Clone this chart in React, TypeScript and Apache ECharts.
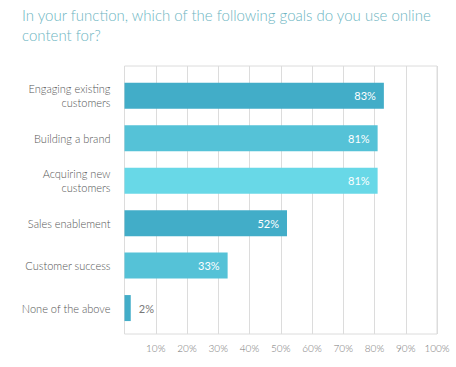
import React, { useEffect, useRef } from "react";
import * as echarts from "echarts";

const categories = [
  "Engaging existing\ncustomers",
  "Building a brand",
  "Acquiring new\ncustomers",
  "Sales enablement",
  "Customer success",
  "None of the above",
];
const values = [83, 81, 81, 52, 33, 2];
const colors = ["#42adc8", "#55c2d7", "#68d8e7", "#42adc8", "#55c2d7", "#42adc8"];
const titleText = "In your function, which of the following goals do you use online\ncontent for?";

export default function App() {
  const ref = useRef<HTMLDivElement>(null);
  useEffect(() => {
    if (!ref.current) return;
    const chart = echarts.init(ref.current, null, { renderer: "svg" });
    const font = "Lato, 'Open Sans', sans-serif";
    chart.setOption({
      animation: false,
      backgroundColor: "#ffffff",
      title: {
        text: titleText,
        left: 22,
        top: 0,
        padding: [5, 0, 0, 0],
        textStyle: {
          color: "#6cb5c2",
          fontSize: 15,
          fontWeight: 300,
          fontFamily: font,
          lineHeight: 20,
        },
      },
      grid: [
        { left: 124.5, right: 19, top: 66, bottom: 33, show: true, borderColor: "#dcdcdc", borderWidth: 1 },
        { left: 124.5, right: 19, top: 74.5, bottom: 37.7 },
      ],
      xAxis: [
        {
          type: "value",
          gridIndex: 0,
          min: 0,
          max: 100,
          interval: 10,
          axisLine: { show: false },
          axisTick: { show: false },
          splitLine: { show: true, lineStyle: { color: "#dcdcdc", width: 1 } },
          axisLabel: {
            showMinLabel: false,
            formatter: "{value}%",
            color: "#777",
            fontSize: 10,
            fontWeight: 300,
            fontFamily: font,
            margin: 9,
          },
        },
        {
          type: "value",
          gridIndex: 1,
          min: 0,
          max: 100,
          show: false,
        },
      ],
      yAxis: [
        { type: "value", gridIndex: 0, show: false },
        {
          type: "category",
          gridIndex: 1,
          data: categories,
          inverse: true,
          axisLine: { show: false },
          axisTick: { show: false },
          splitLine: { show: false },
          axisLabel: {
            color: "#555",
            fontSize: 11,
            fontWeight: 300,
            fontFamily: font,
            margin: 14,
            lineHeight: 14,
            align: "right",
          },
        },
      ],
      series: [
        {
          type: "bar",
          xAxisIndex: 1,
          yAxisIndex: 1,
          barWidth: 26,
          data: values.map((v, i) => ({
            value: v,
            itemStyle: { color: colors[i] },
            label:
              v < 10
                ? { position: "right", color: "#777", distance: 8 }
                : { position: "insideRight", color: "#ffffff", distance: 8 },
          })),
          label: {
            show: true,
            formatter: "{c}%",
            fontSize: 11,
            fontFamily: font,
          },
        },
      ],
    });
    return () => chart.dispose();
  }, []);
  return <div ref={ref} style={{ width: 456, height: 367, position: "absolute", left: 0, top: 0 }} />;
}
